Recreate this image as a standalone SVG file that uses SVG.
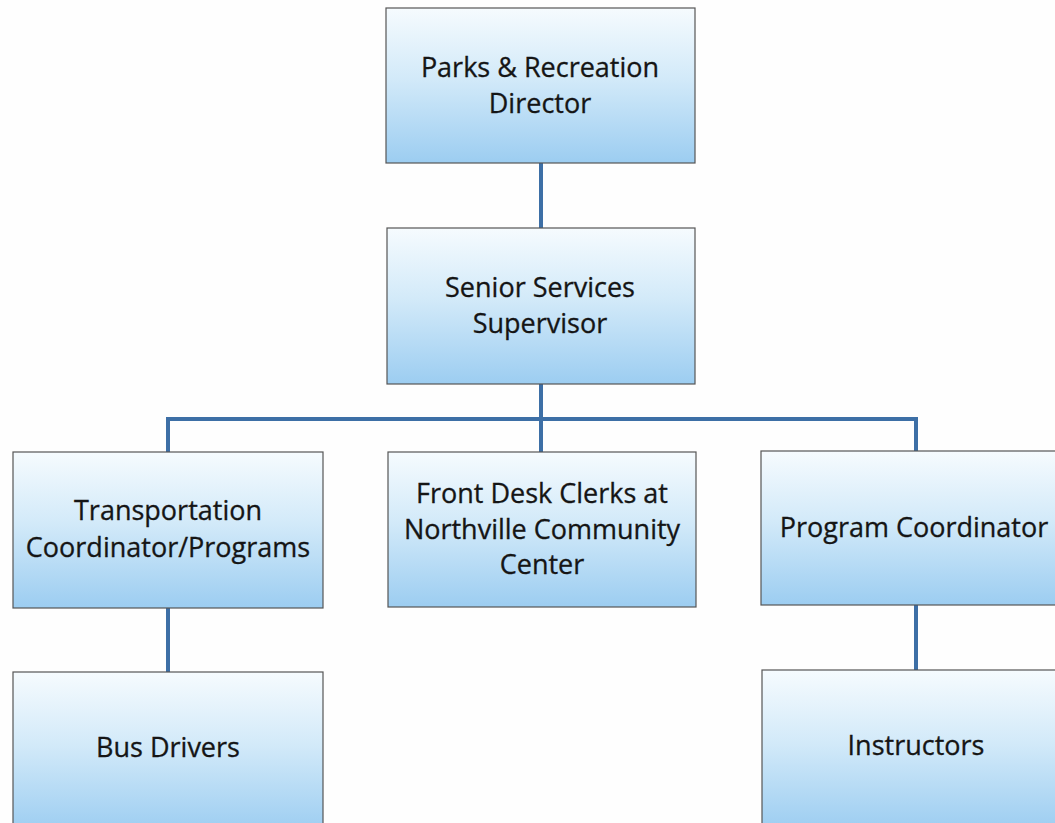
<svg xmlns="http://www.w3.org/2000/svg" width="1055" height="823" viewBox="0 0 1055 823">
<defs>
<linearGradient id="g" x1="0" y1="0" x2="0" y2="1">
<stop offset="0" stop-color="#f6fbfe"/>
<stop offset="0.45" stop-color="#d3eaf9"/>
<stop offset="1" stop-color="#9ccdf1"/>
</linearGradient>
<style>
.box{fill:url(#g);stroke:#555;stroke-width:1.2}
.t{font-family:"Open Sans","Noto Sans",sans-serif;font-size:27px;fill:#151515;text-anchor:middle;stroke:#151515;stroke-width:0.3}
.c{fill:none;stroke:#3d6fa6;stroke-width:4}
</style>
</defs>
<rect width="1055" height="823" fill="#fefefe"/>
<g id="connectors">
<line class="c" x1="541" y1="163" x2="541" y2="228"/>
<line class="c" x1="541" y1="384" x2="541" y2="452"/>
<polyline class="c" points="168,452 168,419 916,419 916,451"/>
<line class="c" x1="168" y1="608" x2="168" y2="672"/>
<line class="c" x1="916" y1="605" x2="916" y2="670"/>
</g>
<g id="director">
<rect class="box" x="386" y="8" width="309" height="155"/>
<text class="t" x="540" y="77">Parks &amp; Recreation</text>
<text class="t" x="540" y="113">Director</text>
</g>
<g id="supervisor">
<rect class="box" x="387" y="228" width="308" height="156"/>
<text class="t" x="540" y="297">Senior Services</text>
<text class="t" x="540" y="333">Supervisor</text>
</g>
<g id="transportation">
<rect class="box" x="13" y="452" width="310" height="156"/>
<text class="t" x="168" y="520">Transportation</text>
<text class="t" x="168" y="557">Coordinator/Programs</text>
</g>
<g id="frontdesk">
<rect class="box" x="388" y="452" width="308" height="155"/>
<text class="t" x="542" y="503">Front Desk Clerks at</text>
<text class="t" x="542" y="539">Northville Community</text>
<text class="t" x="542" y="574">Center</text>
</g>
<g id="programcoord">
<rect class="box" x="761" y="451" width="310" height="154"/>
<text class="t" x="914" y="537">Program Coordinator</text>
</g>
<g id="busdrivers">
<rect class="box" x="13" y="672" width="310" height="160"/>
<text class="t" x="168" y="757">Bus Drivers</text>
</g>
<g id="instructors">
<rect class="box" x="762" y="670" width="310" height="160"/>
<text class="t" x="916" y="755">Instructors</text>
</g>
</svg>
